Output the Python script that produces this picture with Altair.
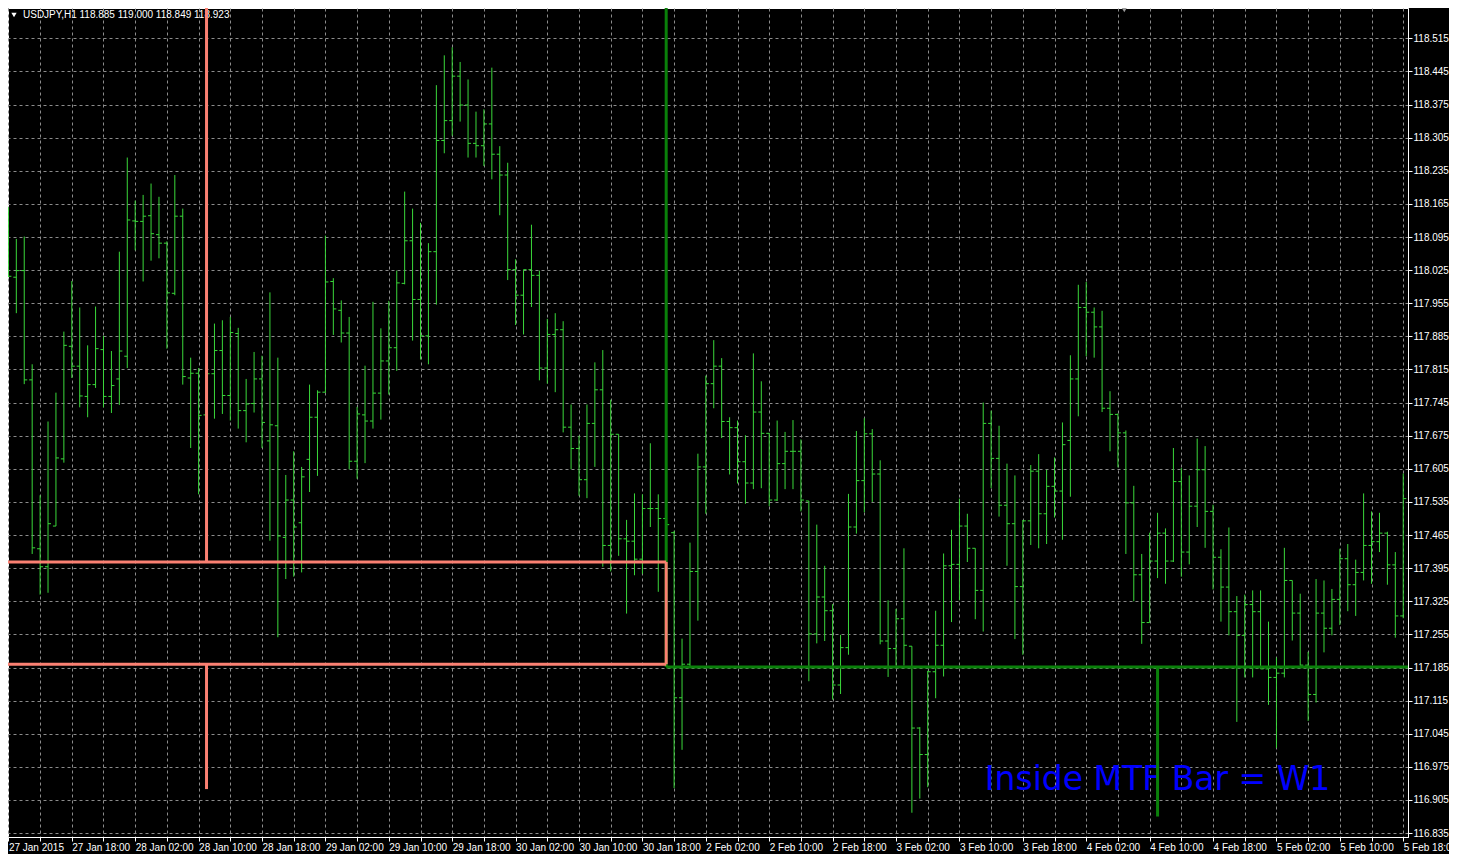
import json
import altair as alt
import pandas as pd

# ---------------- data ----------------
opens = [
    118.100, 118.010, 118.024, 117.793, 117.436, 117.398, 117.484, 117.626, 117.864, 117.822,
    117.758, 117.783, 117.857, 117.758, 117.795, 117.843, 118.129, 118.128, 118.140, 118.100,
    118.082, 117.976, 118.139, 117.797, 117.807, 117.719, 117.806, 117.855, 117.760, 117.891,
    117.728, 117.743, 117.795, 117.664, 117.696, 117.460, 117.539, 117.491, 117.625, 117.714,
    117.767, 118.001, 117.940, 117.892, 117.621, 117.719, 117.706, 117.765, 117.833, 117.861,
    117.997, 118.087, 117.963, 117.886, 118.064, 118.299, 118.341, 118.435, 118.374, 118.293,
    118.288, 118.334, 118.270, 118.226, 118.026, 117.972, 118.026, 118.014, 117.818, 117.889,
    117.899, 117.693, 117.648, 117.582, 117.701, 117.772, 117.443, 117.678, 117.457, 117.452,
    117.414, 117.521, 117.521, 117.500, 117.470, 117.121, 117.192, 117.388, 117.609, 117.785,
    117.822, 117.705, 117.692, 117.620, 117.575, 117.725, 117.680, 117.539, 117.616, 117.642,
    117.642, 117.537, 117.256, 117.334, 117.305, 117.148, 117.227, 117.482, 117.580, 117.679,
    117.594, 117.241, 117.225, 117.288, 117.230, 117.057, 117.001, 117.176, 117.232, 117.400,
    117.403, 117.484, 117.437, 117.348, 117.701, 117.627, 117.528, 117.489, 117.356, 117.495,
    117.600, 117.510, 117.568, 117.558, 117.665, 117.795, 117.946, 117.936, 117.905, 117.733,
    117.720, 117.681, 117.533, 117.381, 117.280, 117.410, 117.469, 117.410, 117.578, 117.429,
    117.526, 117.603, 117.515, 117.418, 117.355, 117.303, 117.253, 117.318, 117.303, 117.182,
    117.164, 117.173, 117.369, 117.300, 117.190, 117.128, 117.300, 117.268, 117.329, 117.415,
    117.360, 117.386, 117.443, 117.451, 117.469, 117.402, 117.294,
]
highs = [
    118.158, 118.091, 118.096, 117.826, 117.549, 117.705, 117.766, 117.895, 118.002, 117.946,
    117.866, 117.948, 117.886, 117.854, 118.064, 118.263, 118.172, 118.184, 118.208, 118.180,
    118.086, 118.226, 118.155, 117.840, 117.818, 117.840, 117.912, 117.919, 117.926, 117.903,
    117.795, 117.852, 117.844, 117.978, 117.840, 117.592, 117.642, 117.609, 117.783, 117.771,
    118.098, 118.008, 117.961, 117.926, 117.736, 117.823, 117.958, 117.902, 117.960, 118.024,
    118.191, 118.155, 118.125, 118.082, 118.416, 118.479, 118.496, 118.465, 118.428, 118.360,
    118.365, 118.453, 118.287, 118.252, 118.048, 118.026, 118.121, 118.024, 117.922, 117.934,
    117.917, 117.741, 117.675, 117.741, 117.830, 117.856, 117.751, 117.678, 117.497, 117.553,
    117.551, 117.659, 117.551, 117.560, 117.474, 117.246, 117.449, 117.637, 117.802, 117.877,
    117.839, 117.714, 117.707, 117.676, 117.849, 117.790, 117.681, 117.707, 117.683, 117.708,
    117.667, 117.537, 117.487, 117.400, 117.319, 117.254, 117.552, 117.685, 117.712, 117.689,
    117.623, 117.327, 117.309, 117.437, 117.230, 117.059, 117.178, 117.305, 117.426, 117.476,
    117.542, 117.510, 117.437, 117.745, 117.728, 117.696, 117.616, 117.591, 117.497, 117.613,
    117.636, 117.603, 117.629, 117.703, 117.845, 117.994, 118.000, 117.946, 117.939, 117.769,
    117.722, 117.686, 117.569, 117.425, 117.470, 117.512, 117.479, 117.649, 117.607, 117.591,
    117.669, 117.653, 117.529, 117.435, 117.481, 117.336, 117.339, 117.348, 117.348, 117.282,
    117.206, 117.438, 117.369, 117.341, 117.218, 117.372, 117.369, 117.351, 117.436, 117.446,
    117.413, 117.553, 117.515, 117.512, 117.472, 117.429, 117.595,
]
lows = [
    118.010, 117.934, 117.784, 117.425, 117.339, 117.343, 117.484, 117.618, 117.797, 117.735,
    117.714, 117.776, 117.735, 117.723, 117.740, 117.818, 118.067, 118.001, 118.045, 118.050,
    117.859, 117.972, 117.783, 117.649, 117.551, 117.700, 117.711, 117.721, 117.707, 117.690,
    117.661, 117.724, 117.649, 117.453, 117.249, 117.372, 117.377, 117.386, 117.556, 117.590,
    117.766, 117.888, 117.872, 117.604, 117.584, 117.617, 117.690, 117.709, 117.762, 117.812,
    117.995, 117.876, 117.836, 117.826, 117.952, 118.272, 118.309, 118.339, 118.263, 118.263,
    118.245, 118.217, 118.141, 118.004, 117.909, 117.889, 117.947, 117.792, 117.785, 117.767,
    117.682, 117.604, 117.548, 117.543, 117.609, 117.398, 117.388, 117.421, 117.299, 117.380,
    117.383, 117.482, 117.345, 117.400, 116.930, 117.011, 117.187, 117.284, 117.510, 117.733,
    117.670, 117.593, 117.574, 117.531, 117.562, 117.564, 117.526, 117.537, 117.562, 117.562,
    117.515, 117.156, 117.236, 117.241, 117.117, 117.129, 117.212, 117.468, 117.513, 117.535,
    117.234, 117.165, 117.189, 117.189, 116.878, 116.908, 116.932, 117.120, 117.166, 117.281,
    117.327, 117.408, 117.287, 117.261, 117.564, 117.504, 117.400, 117.245, 117.212, 117.444,
    117.437, 117.446, 117.502, 117.455, 117.546, 117.716, 117.843, 117.840, 117.725, 117.642,
    117.608, 117.425, 117.325, 117.235, 117.280, 117.374, 117.362, 117.408, 117.377, 117.403,
    117.482, 117.438, 117.350, 117.282, 117.253, 117.070, 117.164, 117.164, 117.182, 117.106,
    117.015, 117.164, 117.242, 117.189, 117.072, 117.111, 117.217, 117.253, 117.275, 117.304,
    117.294, 117.369, 117.362, 117.429, 117.360, 117.248, 117.289,
]
closes = [
    118.012, 118.024, 117.793, 117.438, 117.398, 117.489, 117.628, 117.866, 117.822, 117.759,
    117.783, 117.859, 117.758, 117.781, 117.854, 118.131, 118.128, 118.139, 118.102, 118.082,
    117.977, 118.139, 117.800, 117.807, 117.718, 117.806, 117.855, 117.760, 117.893, 117.728,
    117.742, 117.795, 117.703, 117.698, 117.463, 117.539, 117.482, 117.588, 117.714, 117.767,
    118.000, 117.943, 117.892, 117.621, 117.721, 117.706, 117.765, 117.833, 117.861, 117.998,
    118.087, 117.963, 117.886, 118.064, 118.299, 118.341, 118.435, 118.374, 118.293, 118.288,
    118.334, 118.270, 118.226, 118.026, 117.972, 118.026, 118.014, 117.818, 117.889, 117.899,
    117.693, 117.648, 117.582, 117.701, 117.772, 117.443, 117.678, 117.457, 117.452, 117.414,
    117.521, 117.521, 117.500, 117.487, 117.121, 117.192, 117.388, 117.609, 117.785, 117.822,
    117.705, 117.692, 117.620, 117.575, 117.725, 117.680, 117.539, 117.616, 117.642, 117.642,
    117.539, 117.256, 117.334, 117.305, 117.148, 117.227, 117.482, 117.580, 117.679, 117.594,
    117.241, 117.225, 117.288, 117.232, 117.057, 117.001, 117.176, 117.232, 117.400, 117.403,
    117.484, 117.437, 117.348, 117.701, 117.627, 117.528, 117.489, 117.356, 117.495, 117.600,
    117.510, 117.568, 117.558, 117.656, 117.795, 117.946, 117.936, 117.905, 117.733, 117.720,
    117.681, 117.533, 117.381, 117.280, 117.410, 117.469, 117.410, 117.578, 117.429, 117.526,
    117.603, 117.515, 117.418, 117.355, 117.303, 117.253, 117.318, 117.303, 117.182, 117.164,
    117.173, 117.369, 117.300, 117.190, 117.128, 117.300, 117.268, 117.329, 117.415, 117.360,
    117.386, 117.443, 117.451, 117.469, 117.402, 117.294, 117.542,
]

time_labels = [
    "27 Jan 2015", "27 Jan 18:00", "28 Jan 02:00", "28 Jan 10:00", "28 Jan 18:00",
    "29 Jan 02:00", "29 Jan 10:00", "29 Jan 18:00", "30 Jan 02:00", "30 Jan 10:00",
    "30 Jan 18:00", "2 Feb 02:00", "2 Feb 10:00", "2 Feb 18:00", "3 Feb 02:00",
    "3 Feb 10:00", "3 Feb 18:00", "4 Feb 02:00", "4 Feb 10:00", "4 Feb 18:00",
    "5 Feb 02:00", "5 Feb 10:00", "5 Feb 18:00",
]
price_ticks = [
    116.835, 116.905, 116.975, 117.045, 117.115, 117.185, 117.255, 117.325, 117.395,
    117.465, 117.535, 117.605, 117.675, 117.745, 117.815, 117.885, 117.955, 118.025,
    118.095, 118.165, 118.235, 118.305, 118.375, 118.445, 118.515,
]

header_symbol = "USDJPY,H1"
header_ohlc = ["118.885", "119.000", "118.849", "118.923"]

# previous week (pink) frame and current inside week (green) lines
pink_bar = 25
pink_end_bar = 83
pink_high = 118.70
pink_top = 117.408
pink_bottom = 117.192
pink_low = 116.928

green_bar = 83
green_level = 117.186
green_low_bar = 145
green_low = 116.870
green_high = 118.70

mtf_text = "Inside MTF Bar = W1"
mtf_bar = 145
mtf_price = 116.925

shift_marker_bar = 140.8   # chart-shift marker at the top edge

# ---------------- styling ----------------
BAR_COLOR = "#3ad83a"
PINK = "#fa8072"
DKGREEN = "#0a800a"
GRID = "#8c8c8c"
FONT = "Liberation Sans"
FS = 10

n = len(opens)
bars = pd.DataFrame({"bar": list(range(n)), "open": opens, "high": highs,
                     "low": lows, "close": closes})

x_scale = alt.Scale(domain=[-0.05, 176.6], nice=False, zero=False)
y_scale = alt.Scale(domain=[116.8267, 118.5791], nice=False, zero=False)

label_expr = ("datum.value % 8 == 0 ? " + json.dumps(time_labels) +
              "[datum.value / 8] : ''")

x_axis = alt.Axis(values=list(range(0, n, 4)), labelExpr=label_expr, orient="bottom",
                  title=None, grid=True, gridColor=GRID, gridDash=[3, 3], gridWidth=1,
                  tickColor="#ffffff", tickSize=4, domainColor="#ffffff",
                  labelColor="#ffffff", labelFont=FONT, labelFontSize=FS,
                  labelAlign="left", labelBaseline="top", labelPadding=1,
                  labelFlush=False, labelOverlap=False, labelBound=False)
y_axis = alt.Axis(values=price_ticks, format=".3f", orient="right", title=None,
                  grid=True, gridColor=GRID, gridDash=[3, 3], gridWidth=1,
                  tickColor="#ffffff", tickSize=4, domainColor="#ffffff",
                  labelColor="#ffffff", labelFont=FONT, labelFontSize=FS,
                  labelAlign="left", labelBaseline="middle", labelPadding=1,
                  labelFlush=False, labelOverlap=False)


def X(field):
    return alt.X(field, type="quantitative", scale=x_scale, axis=x_axis)


def Y(field):
    return alt.Y(field, type="quantitative", scale=y_scale, axis=y_axis)


base = alt.Chart(bars)
wicks = base.mark_rule(color=BAR_COLOR, strokeWidth=1).encode(
    x=X("bar"), y=Y("low"), y2="high:Q",
)
open_ticks = base.mark_rule(color=BAR_COLOR, strokeWidth=1, xOffset=-3).encode(
    x=X("bar"), x2=alt.X2("bar:Q"), y=Y("open"),
)
close_ticks = base.mark_rule(color=BAR_COLOR, strokeWidth=1, x2Offset=3).encode(
    x=X("bar"), x2=alt.X2("bar:Q"), y=Y("close"),
)

# header (chart caption in the top-left corner)
header = alt.Chart(pd.DataFrame({"t": [header_symbol + "  " + " ".join(header_ohlc)]})).mark_text(
    color="#ffffff", font=FONT, fontSize=FS, align="left", baseline="middle"
).encode(x=alt.value(15), y=alt.value(7), text="t:N")
header_tri = alt.Chart(pd.DataFrame({"t": [header_symbol]})).mark_point(
    shape="triangle-down", filled=True, size=28, color="#ffffff", opacity=1
).encode(x=alt.value(6), y=alt.value(7))

shift_marker = alt.Chart(pd.DataFrame({"bar": [shift_marker_bar]})).mark_point(
    shape="triangle-down", filled=True, size=60, color="#9a9a9a", opacity=1
).encode(x=X("bar"), y=alt.value(1))

# MTF label
mtf = alt.Chart(pd.DataFrame({"bar": [mtf_bar], "price": [mtf_price], "t": [mtf_text]})).mark_text(
    color="#0000ff", font="DejaVu Sans", fontSize=33, align="center", baseline="alphabetic"
).encode(x=X("bar"), y=Y("price"), text="t:N")

green_df = pd.DataFrame({
    "x0": [green_bar, green_bar, green_low_bar],
    "x1": [green_bar, 180, green_low_bar],
    "y0": [green_high, green_level, green_level],
    "y1": [green_level, green_level, green_low],
})
green = alt.Chart(green_df).mark_rule(color=DKGREEN, strokeWidth=3, clip=True).encode(
    x=X("x0"), x2="x1:Q", y=Y("y0"), y2="y1:Q",
)

pink_df = pd.DataFrame({
    "x0": [pink_bar, -2, -2, pink_end_bar, pink_bar],
    "x1": [pink_bar, pink_end_bar, pink_end_bar, pink_end_bar, pink_bar],
    "y0": [pink_high, pink_top, pink_bottom, pink_top, pink_bottom],
    "y1": [pink_top, pink_top, pink_bottom, pink_bottom, pink_low],
})
pink = alt.Chart(pink_df).mark_rule(color=PINK, strokeWidth=3, clip=True).encode(
    x=X("x0"), x2="x1:Q", y=Y("y0"), y2="y1:Q",
)

chart = alt.layer(
    wicks, open_ticks, close_ticks, header, header_tri, shift_marker, mtf, green, pink
).properties(
    width=1400, height=829,
    padding={"left": 0, "top": 0, "right": 41, "bottom": 17},
    autosize=alt.AutoSizeParams(type="none"),
    background="#000000",
).configure_view(stroke="#ffffff", strokeWidth=1, fill="#000000")

chart.save("out.html", embed_options={"renderer": "svg", "actions": False})
